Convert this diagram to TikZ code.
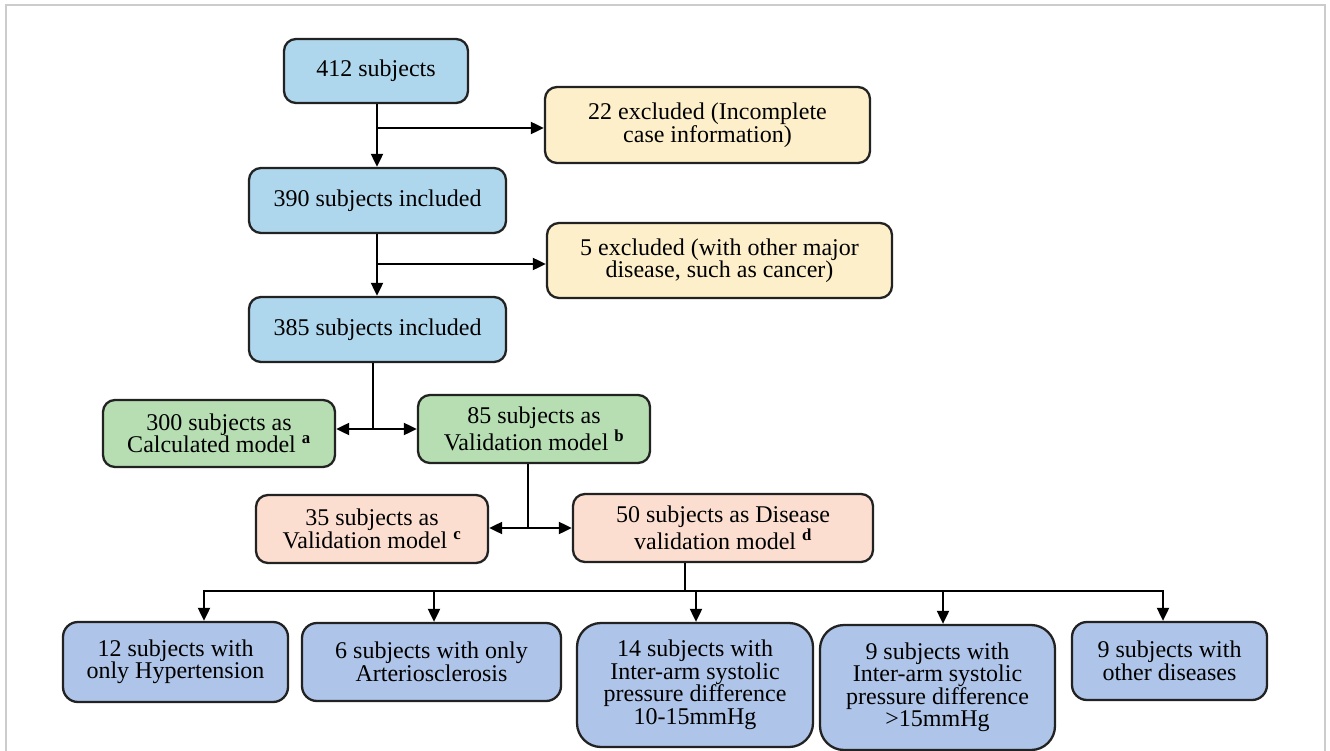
\documentclass[tikz,border=0pt]{standalone}
\usepackage{fontspec}
\setmainfont{Liberation Serif}
\usetikzlibrary{arrows.meta}
\definecolor{cBlue}{HTML}{AED6EC}
\definecolor{cCream}{HTML}{FCEFC9}
\definecolor{cGreen}{HTML}{B6DEB2}
\definecolor{cSalmon}{HTML}{FCDED0}
\definecolor{cPeri}{HTML}{AEC4E8}
\definecolor{cEdge}{HTML}{222222}
\begin{document}
\begin{tikzpicture}[x=1pt,y=-1pt,
  box/.style={draw=cEdge, line width=2.3pt, rounded corners=12pt, align=center, inner sep=0pt,
    font=\rmfamily\fontsize{24}{22.5}\selectfont},
  conn/.style={line width=2pt, black},
  arr/.style={conn, -{Triangle[length=13pt,width=12pt]}},
  darr/.style={conn, {Triangle[length=13pt,width=12pt]}-{Triangle[length=13pt,width=12pt]}}
]
\useasboundingbox (0,0) rectangle (1330,751);
\draw[gray!40, line width=1.5pt] (6,751) -- (6,5) -- (1325,5) -- (1325,751);

% top chain
\node[box, fill=cBlue, minimum width=184pt, minimum height=64pt] (n412) at (376,71) {412 subjects};
\node[box, fill=cBlue, minimum width=257pt, minimum height=65pt] (n390) at (377.5,200.5) {390 subjects included};
\node[box, fill=cBlue, minimum width=257pt, minimum height=65pt] (n385) at (377.5,329.5) {385 subjects included};
\node[box, fill=cCream, minimum width=325pt, minimum height=76pt] (ex22) at (707.5,125) {22 excluded (Incomplete\\case information)};
\node[box, fill=cCream, minimum width=345pt, minimum height=75pt] (ex5) at (719.5,260.5) {5 excluded (with other major\\disease, such as cancer)};

% models
\node[box, fill=cGreen, minimum width=232pt, minimum height=67pt] (m300) at (219,433.5) {300 subjects as\\Calculated model \textsuperscript{\textbf{a}}};
\node[box, fill=cGreen, minimum width=232pt, minimum height=68pt] (m85) at (534,429) {85 subjects as\\Validation model \textsuperscript{\textbf{b}}};
\node[box, fill=cSalmon, minimum width=232pt, minimum height=68pt] (m35) at (372,529) {35 subjects as\\Validation model \textsuperscript{\textbf{c}}};
\node[box, fill=cSalmon, minimum width=300pt, minimum height=68pt] (m50) at (723,528) {50 subjects as Disease\\validation model \textsuperscript{\textbf{d}}};

% bottom
\node[box, fill=cPeri, rounded corners=15pt, minimum width=225pt, minimum height=80pt] (b1) at (175.5,662) {12 subjects with\\only Hypertension};
\node[box, fill=cPeri, rounded corners=15pt, minimum width=259pt, minimum height=78pt] (b2) at (431.5,662) {6 subjects with only\\Arteriosclerosis};
\node[box, fill=cPeri, rounded corners=24pt, minimum width=236pt, minimum height=124pt] (b3) at (695,685) {14 subjects with\\Inter-arm systolic\\pressure difference\\10-15mmHg};
\node[box, fill=cPeri, rounded corners=24pt, minimum width=235pt, minimum height=125pt] (b4) at (937.5,687.5) {9 subjects with\\Inter-arm systolic\\pressure difference\\>15mmHg};
\node[box, fill=cPeri, rounded corners=15pt, minimum width=195pt, minimum height=78pt] (b5) at (1169.5,661) {9 subjects with\\other diseases};

% connectors top
\coordinate (s1) at (377,128);
\coordinate (s2) at (377,264);
\draw[arr] (n412.south -| s1) -- (n390.north -| s1);
\draw[arr] (s1) -- (ex22.west |- s1);
\draw[arr] (n390.south -| s2) -- (n385.north -| s2);
\draw[arr] (s2) -- (ex5.west |- s2);

% split 1
\coordinate (j1) at (373,429);
\draw[conn] (n385.south -| j1) -- (j1);
\draw[darr] (m300.east |- j1) -- (m85.west |- j1);

% split 2
\coordinate (j2) at (528,528);
\draw[conn] (m85.south -| j2) -- (j2);
\draw[darr] (m35.east |- j2) -- (m50.west |- j2);

% split 3
\coordinate (j3) at (685,591);
\coordinate (h1) at (204,591);
\coordinate (h2) at (434,591);
\coordinate (h3) at (696,591);
\coordinate (h4) at (943,591);
\coordinate (h5) at (1163,591);
\draw[conn] (m50.south -| j3) -- (j3);
\draw[conn, line cap=rect] (h1) -- (h5);
\draw[arr] (h1) -- (b1.north -| h1);
\draw[arr] (h2) -- (b2.north -| h2);
\draw[arr] (h3) -- (b3.north -| h3);
\draw[arr] (h4) -- (b4.north -| h4);
\draw[arr] (h5) -- (b5.north -| h5);
\end{tikzpicture}
\end{document}
